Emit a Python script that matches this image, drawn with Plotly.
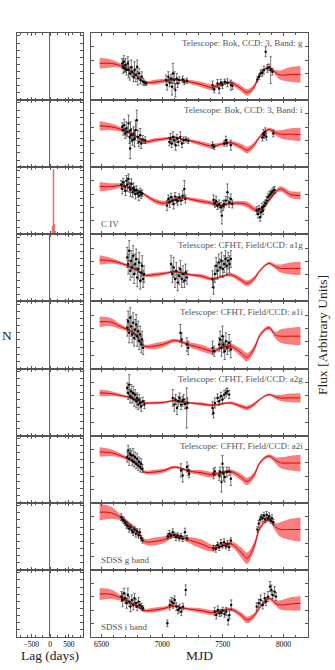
import plotly.graph_objects as go
from plotly.subplots import make_subplots

FONT = "Liberation Serif"

# model (GP) grid shared by every light curve panel
MODEL_MJD = [6485, 6580, 6665, 6745, 6800, 6855, 6935, 7020, 7100, 7180, 7235, 7320,
             7415, 7485, 7565, 7650, 7700, 7755, 7810, 7880, 7935, 7975, 8060, 8140]

# --- Bok g
BOK_G_MJD = [6671, 6679, 6684, 6690, 6698, 6706, 6717, 6723, 6734, 6745, 6753, 6764, 6772, 6783,
             6794, 6799, 6810, 6821, 6832, 6843, 6854, 6868,
             7032, 7040, 7051, 7062, 7073, 7081, 7089, 7100, 7109, 7120, 7128, 7141, 7169, 7183, 7204,
             7415, 7429, 7456, 7470, 7484, 7497, 7516, 7538, 7566, 7579,
             7785, 7798, 7812, 7826, 7839, 7853, 7867, 7880, 7894, 7908]
BOK_G_FLUX = [11.0, 10.0, 11.5, 9.5, 10.5, 9.0, 11.0, 9.2, 8.0, 9.8, 8.5, 7.0, 9.0, 7.5,
              10.0, 6.5, 8.0, 6.0, 7.0, 5.5, 5.2, 5.0,
              6.0, 4.5, 7.0, 5.2, 6.5, 4.0, 8.0, 6.0, 3.0, 6.5, 5.0, 6.0, 6.2, 5.5, 5.8,
              4.5, 3.2, 5.0, 3.5, 5.2, 4.5, 5.5, 5.2, 4.5, 4.2,
              6.2, 7.0, 8.0, 8.2, 9.0, 14.5, 9.5, 9.8, 9.0, 8.5]
BOK_G_ERR = [1.5, 2.0, 1.8, 1.2, 2.0, 1.5, 2.0, 2.5, 2.0, 2.2, 1.5, 1.5, 2.5, 2.0,
             2.0, 2.0, 1.5, 1.2, 1.5, 1.0, 0.8, 0.6,
             1.5, 1.5, 1.5, 1.2, 1.2, 2.5, 3.0, 2.5, 2.0, 1.5, 1.2, 1.0, 1.0, 0.8, 0.8,
             1.2, 1.0, 1.2, 1.5, 1.0, 1.0, 0.8, 1.2, 1.5, 1.0,
             0.8, 0.8, 1.0, 1.0, 1.2, 1.5, 1.2, 1.0, 4.0, 1.0]
BOK_G_MODEL = [11.0, 11.0, 10.2, 8.5, 7.0, 5.3, 5.4, 5.8, 6.2, 5.8, 5.4, 4.7,
               3.8, 4.8, 5.2, 3.5, 2.3, 3.8, 8.0, 9.8, 8.2, 7.5, 7.7, 7.7]
BOK_G_SIG = [1.6, 1.2, 0.6, 0.4, 0.4, 0.4, 0.7, 0.6, 0.4, 0.4, 0.6, 0.8,
             0.8, 0.4, 0.6, 0.9, 1.0, 0.8, 0.5, 0.5, 0.8, 1.4, 2.2, 2.5]

# --- Bok i
BOK_I_MJD = [6671, 6679, 6687, 6695, 6704, 6712, 6723, 6731, 6739, 6747, 6756, 6764, 6772, 6780,
             6791, 6799, 6808, 6819, 6827, 6840, 6860, 6736,
             7059, 7068, 7079, 7089, 7100, 7111, 7122, 7133, 7150, 7163, 7177, 7196, 7215,
             7415, 7429, 7511, 7525, 7533, 7566,
             7826, 7834, 7842, 7850, 7859, 7916]
BOK_I_FLUX = [12.1, 11.1, 12.6, 10.1, 11.6, 10.6, 13.1, 9.1, 11.1, 9.6, 8.1, 10.1, 8.6, 11.1,
              14.1, 9.1, 7.6, 9.6, 7.1, 8.3, 8.1, 5.6,
              7.6, 8.6, 7.1, 9.1, 8.1, 6.6, 8.6, 7.6, 9.1, 7.1, 8.1, 8.3, 7.9,
              6.6, 6.1, 7.1, 8.1, 7.3, 6.6,
              8.9, 10.1, 9.6, 10.6, 9.1, 10.1]
BOK_I_ERR = [1.2, 1.5, 1.8, 1.5, 2.0, 1.5, 2.5, 2.0, 2.5, 2.0, 1.5, 2.0, 2.5, 3.0,
             3.0, 2.0, 1.5, 2.0, 1.5, 1.2, 1.0, 3.0,
             1.2, 1.5, 1.2, 1.5, 1.2, 1.5, 1.2, 1.2, 1.5, 1.2, 1.0, 0.8, 0.8,
             1.0, 0.8, 0.8, 1.2, 1.0, 1.5,
             1.0, 1.2, 1.0, 1.2, 1.0, 1.0]
BOK_I_MODEL = [12.4, 12.1, 11.3, 10.1, 8.9, 7.6, 8.1, 8.5, 8.9, 8.3, 7.9, 7.1,
               6.3, 6.9, 7.3, 6.1, 5.1, 6.6, 9.3, 11.3, 10.3, 9.9, 9.9, 9.8]
BOK_I_SIG = [1.4, 1.0, 0.6, 0.4, 0.4, 0.5, 0.6, 0.5, 0.4, 0.4, 0.5, 0.7,
             0.7, 0.5, 0.6, 0.9, 1.0, 0.8, 0.5, 0.5, 0.8, 1.2, 1.8, 2.0]

# --- C IV
CIV_MJD = [6663, 6671, 6679, 6690, 6698, 6706, 6714, 6723, 6731, 6739, 6747, 6756, 6764, 6772,
           6780, 6788, 6799, 6808, 6819, 6827, 6835,
           7040, 7051, 7062, 7073, 7084, 7095, 7106, 7117, 7128, 7141, 7155, 7169, 7183, 7191,
           7423, 7434, 7445, 7456, 7470, 7484, 7492, 7503, 7511, 7525, 7538, 7552, 7566, 7579,
           7779, 7790, 7798, 7807, 7815, 7823, 7831, 7839, 7850, 7861, 7872, 7883, 7894, 7905,
           7916, 7927]
CIV_FLUX = [14.9, 13.6, 15.6, 14.3, 13.1, 16.1, 14.9, 16.6, 14.1, 13.3, 15.1, 12.6, 13.9, 13.1,
            12.1, 13.3, 12.3, 11.6, 12.6, 11.9, 12.3,
            8.6, 10.6, 9.6, 11.1, 10.1, 9.1, 11.3, 10.3, 9.9, 11.1, 10.1, 11.6, 13.6, 10.6,
            10.3, 9.3, 9.9, 8.6, 9.1, 8.1, 5.6, 8.6, 9.1, 10.1, 12.6, 9.6, 10.6, 9.1,
            7.1, 6.1, 7.6, 5.1, 6.6, 8.1, 7.1, 8.6, 9.3, 10.1, 11.1, 11.6, 12.1, 12.6,
            13.1, 13.3]
CIV_ERR = [1.2, 1.5, 1.2, 1.5, 1.5, 1.5, 2.0, 1.5, 1.5, 2.0, 1.5, 1.5, 1.5, 1.2,
           1.5, 1.2, 1.2, 1.5, 1.2, 1.2, 1.0,
           1.5, 1.2, 1.5, 1.2, 1.2, 1.5, 1.2, 1.0, 1.2, 1.0, 1.2, 1.5, 2.5, 1.2,
           1.5, 1.2, 1.5, 1.2, 1.2, 1.5, 2.5, 1.5, 1.2, 1.2, 2.5, 1.5, 1.5, 1.2,
           1.2, 1.2, 1.0, 1.2, 1.2, 1.2, 1.2, 1.2, 1.0, 1.2, 1.0, 1.2, 1.0, 1.0,
           1.0, 1.0]
CIV_MODEL = [14.3, 14.3, 14.6, 13.6, 12.9, 11.9, 10.1, 9.3, 10.3, 10.9, 10.5, 9.9,
             9.3, 8.6, 9.3, 9.3, 8.9, 7.6, 7.3, 10.1, 12.6, 13.6, 11.9, 11.6]
CIV_SIG = [1.4, 1.0, 0.6, 0.4, 0.4, 0.5, 0.7, 0.7, 0.5, 0.4, 0.5, 0.7,
           0.6, 0.5, 0.5, 0.7, 0.9, 0.8, 0.5, 0.5, 0.6, 0.8, 1.0, 1.2]

# --- CFHT a1g
A1G_MJD = [6712, 6720, 6728, 6736, 6745, 6753, 6761, 6769, 6777, 6786, 6794, 6802, 6810, 6819,
           6827, 6835, 6843, 6851,
           7073, 7084, 7095, 7106, 7117, 7128, 7139, 7150, 7161, 7172, 7183, 7193, 7204,
           7415, 7423, 7434, 7445, 7456, 7467, 7478, 7489, 7500, 7511, 7522, 7533, 7544, 7555, 7566]
A1G_FLUX = [13.2, 11.2, 15.2, 9.2, 12.2, 10.2, 13.7, 8.2, 11.2, 12.7, 7.2, 9.7, 11.7, 6.2,
            8.7, 10.7, 6.7, 8.2,
            11.2, 8.2, 10.2, 6.7, 9.2, 5.7, 7.7, 9.7, 6.7, 8.2, 6.2, 8.7, 7.2,
            6.7, 4.2, 8.2, 10.7, 9.2, 11.7, 10.2, 12.2, 9.7, 11.2, 12.7, 10.7, 12.2, 11.2, 12.7]
A1G_ERR = [3.0, 3.0, 3.0, 2.8, 3.0, 3.0, 3.0, 2.8, 3.0, 3.0, 2.8, 3.0, 3.0, 2.5,
           2.8, 3.0, 2.5, 2.5,
           2.5, 2.5, 3.0, 2.5, 2.5, 2.5, 2.5, 2.5, 2.5, 2.5, 2.0, 2.5, 2.0,
           2.5, 2.0, 2.5, 2.5, 2.5, 2.5, 2.5, 2.5, 2.5, 2.5, 2.5, 2.5, 2.5, 2.5, 2.5]
A1G_MODEL = [12.4, 12.2, 11.4, 10.2, 9.2, 7.9, 8.0, 8.4, 8.9, 8.4, 8.0, 7.6,
             6.7, 7.4, 8.0, 6.4, 5.4, 6.7, 9.4, 11.4, 10.4, 9.9, 9.9, 9.9]
A1G_SIG = [1.4, 0.8, 0.5, 0.4, 0.4, 0.4, 0.6, 0.5, 0.3, 0.3, 0.4, 0.6,
           0.5, 0.3, 0.5, 0.8, 0.9, 0.7, 0.4, 0.4, 0.7, 1.2, 1.8, 2.0]

# --- CFHT a1i
A1I_MJD = [6712, 6720, 6728, 6736, 6745, 6753, 6761, 6769, 6777, 6786, 6794, 6802, 6810, 6819,
           6827, 6835, 6843,
           7150, 7161, 7204, 7215,
           7415, 7429, 7470, 7478, 7489, 7497, 7505, 7516, 7525, 7538, 7552, 7566]
A1I_FLUX = [12.2, 14.2, 10.7, 15.2, 12.7, 10.2, 13.7, 9.2, 11.7, 13.2, 9.7, 11.2, 8.2, 10.2,
            7.2, 8.7, 6.2,
            10.7, 8.7, 7.2, 6.2,
            6.2, 5.2, 7.2, 8.7, 6.2, 9.7, 7.2, 5.2, 8.2, 6.2, 7.7, 5.7]
A1I_ERR = [2.5, 3.0, 3.0, 3.0, 3.0, 2.5, 3.0, 2.5, 3.0, 3.0, 3.0, 3.0, 2.5, 2.5,
           2.5, 2.5, 2.0,
           2.5, 2.0, 2.0, 2.0,
           2.0, 1.5, 2.0, 2.5, 2.5, 3.0, 2.5, 2.5, 2.5, 2.0, 2.5, 2.5]
A1I_MODEL = [14.0, 13.9, 12.4, 11.2, 9.2, 6.7, 6.7, 7.4, 8.4, 7.7, 7.0, 6.2,
             5.2, 6.2, 6.7, 4.7, 3.4, 5.7, 10.2, 12.2, 10.0, 9.7, 9.7, 9.7]
A1I_SIG = [1.6, 1.2, 0.7, 0.5, 0.5, 0.5, 0.9, 0.8, 0.5, 0.5, 0.8, 1.0,
           0.8, 0.5, 0.8, 1.2, 1.3, 1.0, 0.6, 0.6, 1.0, 2.0, 2.5, 2.8]

# --- CFHT a2g
A2G_MJD = [6712, 6720, 6728, 6736, 6745, 6753, 6761, 6769, 6777, 6786, 6794, 6802, 6810, 6819,
           6827, 6840, 6854,
           7087, 7100, 7111, 7122, 7133, 7144, 7155, 7166, 7177, 7188, 7202, 7210,
           7415, 7423, 7434, 7456, 7470, 7484, 7497, 7511, 7525, 7538, 7552]
A2G_FLUX = [14.3, 12.8, 15.3, 11.8, 13.3, 11.3, 12.8, 10.8, 12.3, 10.3, 11.3, 9.3, 10.8, 9.8,
            8.8, 10.3, 9.3,
            11.3, 9.3, 10.8, 8.3, 10.3, 11.3, 9.3, 10.3, 10.8, 9.5, 8.3, 9.8,
            8.3, 6.8, 9.8, 11.3, 10.3, 11.8, 10.8, 12.3, 12.8, 13.3, 12.3]
A2G_ERR = [1.5, 2.0, 3.0, 2.0, 2.0, 1.5, 2.0, 2.0, 1.5, 2.0, 1.5, 1.5, 1.5, 1.5,
           1.5, 1.2, 1.2,
           2.5, 2.0, 1.5, 2.0, 1.5, 1.5, 1.5, 1.5, 1.5, 1.5, 6.0, 1.5,
           2.0, 1.5, 1.5, 1.2, 1.2, 1.2, 1.2, 1.2, 1.2, 1.0, 1.2]
A2G_MODEL = [12.8, 12.6, 12.0, 11.3, 10.5, 9.8, 9.8, 10.0, 10.5, 10.1, 9.8, 9.5,
             9.1, 9.5, 9.8, 8.8, 8.3, 9.3, 11.0, 12.3, 11.6, 11.3, 11.3, 11.3]
A2G_SIG = [1.0, 0.7, 0.4, 0.3, 0.3, 0.3, 0.4, 0.3, 0.3, 0.3, 0.3, 0.5,
           0.4, 0.3, 0.4, 0.6, 0.7, 0.6, 0.3, 0.3, 0.6, 0.9, 1.3, 1.4]

# --- CFHT a2i
A2I_MJD = [6712, 6720, 6728, 6736, 6745, 6753, 6761, 6769, 6777, 6786, 6794, 6802, 6810, 6819,
           6827, 6838,
           7155, 7169, 7204, 7215, 7223,
           7423, 7434, 7470, 7478, 7489, 7497, 7505, 7516, 7533, 7552, 7566]
A2I_FLUX = [13.7, 15.7, 13.2, 14.7, 14.2, 12.7, 14.2, 12.2, 13.7, 11.7, 13.2, 11.2, 12.2, 10.7,
            11.7, 10.2,
            9.7, 8.2, 10.7, 9.7, 8.7,
            8.7, 9.4, 8.2, 9.2, 6.2, 11.7, 8.7, 7.7, 9.2, 9.4, 7.2]
A2I_ERR = [1.5, 1.5, 2.0, 1.5, 1.5, 1.5, 2.0, 1.5, 1.5, 1.5, 1.5, 1.5, 1.5, 1.5,
           1.5, 1.2,
           2.0, 2.0, 1.5, 1.5, 1.2,
           1.5, 1.2, 1.5, 1.5, 3.0, 2.5, 2.0, 1.5, 1.5, 1.2, 2.0]
A2I_MODEL = [15.2, 15.0, 14.0, 12.7, 11.2, 9.2, 9.2, 9.7, 10.7, 10.0, 9.4, 9.0,
             8.4, 9.0, 9.4, 7.7, 6.4, 8.2, 12.2, 14.0, 12.7, 12.0, 11.9, 11.9]
A2I_SIG = [1.4, 1.0, 0.6, 0.5, 0.5, 0.5, 0.7, 0.6, 0.4, 0.4, 0.5, 0.8,
           0.8, 0.4, 0.6, 1.0, 1.1, 0.9, 0.5, 0.5, 0.9, 1.6, 2.2, 2.5]

# --- SDSS g
SDSS_G_MJD = [6663, 6673, 6684, 6695, 6706, 6717, 6728, 6739, 6750, 6761, 6772, 6783, 6794, 6805,
              6816, 6827, 6838,
              7046, 7059, 7073, 7087, 7100, 7114, 7128, 7141, 7155, 7169, 7188, 7204,
              7423, 7442, 7456, 7470, 7484, 7497, 7511, 7525, 7538, 7552, 7566,
              7785, 7796, 7807, 7818, 7828, 7839, 7850, 7861, 7872, 7883, 7894, 7905, 7916]
SDSS_G_FLUX = [15.8, 15.1, 14.8, 14.1, 13.5, 13.1, 12.3, 12.8, 11.8, 11.3, 12.1, 10.8, 11.5, 10.3,
               11.3, 9.5, 8.8,
               10.1, 10.8, 10.3, 11.3, 10.5, 9.8, 10.3, 9.5, 10.1, 9.3, 11.3, 9.5,
               6.5, 6.3, 7.5, 6.8, 8.1, 7.3, 8.3, 7.1, 7.8, 6.8, 8.8,
               12.1, 13.8, 15.1, 15.8, 15.5, 16.3, 15.1, 16.5, 15.5, 16.1, 14.8, 15.5, 14.3]
SDSS_G_ERR = [1.0, 0.8, 1.0, 0.8, 1.0, 0.8, 1.0, 0.8, 0.8, 1.0, 0.8, 1.0, 0.8, 0.8,
              1.0, 0.8, 0.8,
              0.8, 1.0, 0.8, 1.0, 0.8, 1.0, 0.8, 0.8, 0.8, 0.8, 1.2, 0.8,
              0.8, 1.0, 0.8, 1.0, 1.0, 0.8, 1.0, 0.8, 1.0, 1.0, 0.8,
              0.8, 1.0, 1.0, 0.8, 1.0, 1.0, 0.8, 1.0, 0.8, 1.0, 0.8, 1.0, 0.8]
SDSS_G_MODEL = [17.3, 17.1, 15.5, 13.3, 11.5, 8.5, 8.5, 9.1, 10.3, 9.5, 8.8, 7.8,
                6.5, 7.1, 7.8, 5.3, 3.5, 6.8, 12.8, 15.1, 12.8, 12.1, 12.1, 12.1]
SDSS_G_SIG = [2.5, 1.8, 0.8, 0.6, 0.6, 0.8, 1.2, 1.0, 0.6, 0.6, 1.0, 1.4,
              1.0, 0.5, 0.8, 1.5, 1.7, 1.3, 0.7, 0.7, 1.2, 2.2, 3.2, 3.6]

# --- SDSS i
SDSS_I_MJD = [6665, 6674, 6685, 6696, 6707, 6717, 6728, 6739, 6750, 6761, 6772, 6783, 6794, 6805,
              6816, 6830, 6843,
              7043, 7062, 7076, 7090, 7103, 7117, 7131, 7144, 7158, 7172, 7194,
              7432, 7446, 7459, 7473, 7487, 7500, 7514, 7528, 7544, 7555, 7569,
              7779, 7796, 7812, 7829, 7845, 7856, 7872, 7889, 7900, 7911, 7927, 7938]
SDSS_I_FLUX = [12.1, 11.1, 13.1, 11.6, 10.1, 12.6, 10.6, 9.1, 11.1, 9.6, 11.6, 10.1, 9.1, 10.6,
               9.6, 9.1, 8.6,
               4.1, 9.6, 10.6, 10.1, 11.1, 9.1, 8.1, 8.6, 7.6, 9.1, 14.1,
               7.6, 6.6, 8.1, 7.1, 7.3, 7.9, 6.9, 7.6, 5.1, 6.6, 9.6,
               9.1, 10.1, 11.1, 9.6, 11.6, 10.6, 12.1, 15.1, 14.1, 12.6, 13.6, 12.1]
SDSS_I_ERR = [1.5, 2.0, 1.5, 1.5, 1.5, 2.0, 1.5, 1.5, 1.5, 1.5, 1.5, 1.2, 1.2, 1.2,
              1.0, 1.0, 0.8,
              1.0, 1.5, 1.2, 1.5, 1.2, 1.2, 1.2, 1.2, 1.2, 1.0, 1.5,
              1.2, 1.2, 1.2, 1.0, 1.0, 1.0, 1.0, 1.2, 1.5, 1.2, 1.5,
              1.2, 1.2, 1.5, 1.2, 1.5, 1.2, 1.5, 1.5, 1.5, 1.2, 1.5, 1.2]
SDSS_I_MODEL = [12.9, 12.8, 11.6, 10.1, 9.1, 7.9, 8.1, 8.6, 9.3, 8.6, 8.3, 7.9,
                7.3, 7.8, 8.3, 6.6, 5.1, 6.3, 9.1, 11.6, 10.1, 9.6, 9.9, 10.1]
SDSS_I_SIG = [1.8, 1.4, 0.8, 0.5, 0.5, 0.5, 0.7, 0.6, 0.4, 0.4, 0.5, 0.7,
              0.7, 0.4, 0.5, 0.8, 1.0, 0.8, 0.5, 0.5, 0.8, 1.4, 2.0, 2.2]

# lag posteriors (left column)
ZERO_LAG = [0]
ZERO_LAG_N = [9.4]
CIV_LAG = [65, 85, 105, 125, 145]
CIV_LAG_N = [1.2, 9.1, 9.0, 1.4, 0.5]

LABELS = [
    "Telescope: Bok, CCD: 3, Band: g",
    "Telescope: Bok, CCD: 3, Band: i",
    "C IV",
    "Telescope: CFHT, Field/CCD: a1g",
    "Telescope: CFHT, Field/CCD: a1i",
    "Telescope: CFHT, Field/CCD: a2g",
    "Telescope: CFHT, Field/CCD: a2i",
    "SDSS g band",
    "SDSS i band",
]

PANELS = [
    (BOK_G_MJD, BOK_G_FLUX, BOK_G_ERR, BOK_G_MODEL, BOK_G_SIG),
    (BOK_I_MJD, BOK_I_FLUX, BOK_I_ERR, BOK_I_MODEL, BOK_I_SIG),
    (CIV_MJD, CIV_FLUX, CIV_ERR, CIV_MODEL, CIV_SIG),
    (A1G_MJD, A1G_FLUX, A1G_ERR, A1G_MODEL, A1G_SIG),
    (A1I_MJD, A1I_FLUX, A1I_ERR, A1I_MODEL, A1I_SIG),
    (A2G_MJD, A2G_FLUX, A2G_ERR, A2G_MODEL, A2G_SIG),
    (A2I_MJD, A2I_FLUX, A2I_ERR, A2I_MODEL, A2I_SIG),
    (SDSS_G_MJD, SDSS_G_FLUX, SDSS_G_ERR, SDSS_G_MODEL, SDSS_G_SIG),
    (SDSS_I_MJD, SDSS_I_FLUX, SDSS_I_ERR, SDSS_I_MODEL, SDSS_I_SIG),
]

NROW = len(PANELS)
fig = make_subplots(rows=NROW, cols=2, vertical_spacing=0, horizontal_spacing=0)

BAND = "rgba(245,40,40,0.6)"
for i, (mjd, flux, err, model, sig) in enumerate(PANELS):
    r = i + 1
    upper = [m + s for m, s in zip(model, sig)]
    lower = [m - s for m, s in zip(model, sig)]
    fig.add_trace(go.Scatter(x=MODEL_MJD, y=upper, mode="lines", line=dict(width=0, shape="spline"),
                             hoverinfo="skip", showlegend=False), row=r, col=2)
    fig.add_trace(go.Scatter(x=MODEL_MJD, y=lower, mode="lines", line=dict(width=0, shape="spline"),
                             fill="tonexty", fillcolor=BAND, hoverinfo="skip", showlegend=False),
                  row=r, col=2)
    fig.add_trace(go.Scatter(x=MODEL_MJD, y=model, mode="lines",
                             line=dict(color="#e00000", width=1, shape="spline"), showlegend=False),
                  row=r, col=2)
    fig.add_trace(go.Scatter(x=mjd, y=flux, mode="markers",
                             marker=dict(color="black", size=2.4),
                             error_y=dict(type="data", array=err, color="rgba(30,30,30,0.85)",
                                          thickness=0.7, width=1.2),
                             showlegend=False), row=r, col=2)

    if i == 2:
        fig.add_trace(go.Bar(x=CIV_LAG, y=CIV_LAG_N, width=20,
                             marker=dict(color="rgba(240,100,100,0.85)",
                                         line=dict(color="rgba(200,60,60,0.6)", width=0.3)),
                             showlegend=False), row=r, col=1)
    else:
        fig.add_trace(go.Bar(x=ZERO_LAG, y=ZERO_LAG_N, width=8,
                             marker=dict(color="rgba(225,70,60,0.9)",
                                         line=dict(color="#c0412f", width=0.9)),
                             showlegend=False), row=r, col=1)

# domains (pixels converted to paper fractions)
W, H = 335, 670
ML, MR, MT, MB = 17, 27, 33, 33
pw = W - ML - MR
ph = H - MT - MB
left_dom = [0, (83.3 - ML) / pw]
right_dom = [(90.7 - ML) / pw, 1]
AX = dict(showline=True, linecolor="#555", linewidth=1, mirror="ticks", ticks="inside",
          tickcolor="#555", ticklen=3, showgrid=False, zeroline=False,
          tickfont=dict(family=FONT, size=7.5, color="black"))
for i in range(NROW):
    r = i + 1
    ydom = [1 - r / NROW, 1 - i / NROW]
    last = r == NROW
    fig.update_xaxes(AX, row=r, col=1, domain=left_dom, range=[-880, 880],
                     tickvals=[-500, 0, 500], ticktext=["\u2212500", "0", "500"],
                     showticklabels=last,
                     minor=dict(ticks="inside", ticklen=2, dtick=200, tick0=0, tickcolor="#555"))
    fig.update_yaxes(AX, row=r, col=1, domain=ydom, range=[0, 9.4], dtick=1, tick0=0,
                     showticklabels=False)
    fig.update_xaxes(AX, row=r, col=2, domain=right_dom, range=[6411, 8202],
                     tickvals=[6500, 7000, 7500, 8000], showticklabels=last,
                     minor=dict(ticks="inside", ticklen=2, dtick=100, tick0=6500, tickcolor="#555"))
    fig.update_yaxes(AX, row=r, col=2, domain=ydom, range=[0, 20.1], dtick=4, tick0=0,
                     showticklabels=False)

annotations = []
for i, lab in enumerate(LABELS):
    r = i + 1
    xref = "x%d domain" % (2 * r)
    yref = "y%d domain" % (2 * r)
    if lab.startswith("Telescope"):
        annotations.append(dict(text=lab, x=0.985, y=0.95, xref=xref, yref=yref,
                                xanchor="right", yanchor="top", showarrow=False,
                                font=dict(family=FONT, size=9, color="#555")))
    else:
        annotations.append(dict(text=lab, x=0.04, y=0.05, xref=xref, yref=yref,
                                xanchor="left", yanchor="bottom", showarrow=False,
                                font=dict(family=FONT, size=9, color="#555")))

annotations += [
    dict(text="Lag (days)", x=(left_dom[0] + left_dom[1]) / 2, y=-18 / ph, xref="paper", yref="paper",
         xanchor="center", yanchor="middle", showarrow=False,
         font=dict(family=FONT, size=13.5, color="#222")),
    dict(text="MJD", x=(right_dom[0] + right_dom[1]) / 2, y=-18 / ph, xref="paper", yref="paper",
         xanchor="center", yanchor="middle", showarrow=False,
         font=dict(family=FONT, size=13.5, color="#222")),
    dict(text="N", x=-10 / pw, y=0.5, xref="paper", yref="paper", xanchor="center",
         yanchor="middle", showarrow=False, font=dict(family=FONT, size=13.5, color="#222")),
    dict(text="Flux [Arbitrary Units]", x=1 + 14 / pw, y=0.5, xref="paper", yref="paper",
         xanchor="center", yanchor="middle", textangle=-90, showarrow=False,
         font=dict(family=FONT, size=13.5, color="#222")),
]

fig.update_layout(width=W, height=H, margin=dict(l=ML, r=MR, t=MT, b=MB),
                  paper_bgcolor="white", plot_bgcolor="white", bargap=0,
                  font=dict(family=FONT, color="black"), annotations=annotations)
fig.write_html("out.html", config={"displayModeBar": False},
               post_script="document.body.style.margin='0';")
